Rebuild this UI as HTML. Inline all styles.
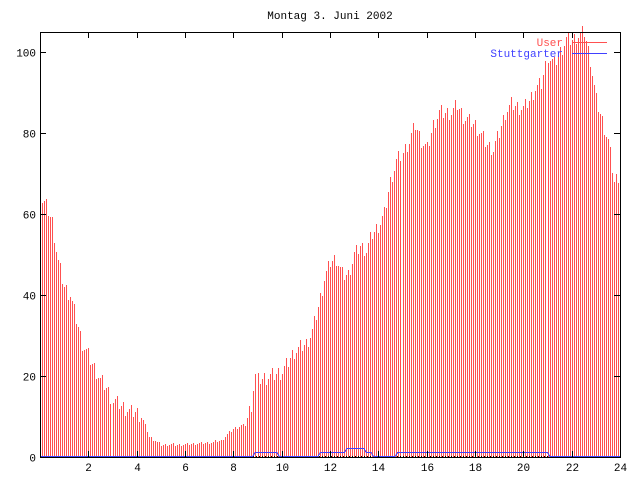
<!DOCTYPE html>
<html><head><meta charset="utf-8"><style>
html,body{margin:0;padding:0;background:#fff;width:640px;height:480px;overflow:hidden}
text{font-family:"Liberation Mono",monospace;font-size:11px}
</style></head><body>
<svg id="s" width="640" height="480" xmlns="http://www.w3.org/2000/svg" shape-rendering="crispEdges">
<g id="bars"></g>
<line x1="40" x2="620" y1="456.5" y2="456.5" stroke="#000" stroke-dasharray="1,2"/>
<polyline id="blue" fill="none" stroke="#4040ff" stroke-width="1"/>
<rect x="40.5" y="32.5" width="580" height="425" fill="none" stroke="#000"/>
<g id="ticks" stroke="#000"></g>
<g id="labels" fill="#000"></g>
<text x="330" y="19" text-anchor="middle">Montag 3. Juni 2002</text>
<text x="563" y="46" text-anchor="end" fill="#ff5050">User</text>
<line x1="572" y1="42.5" x2="607" y2="42.5" stroke="#ff5050"/>
<text x="563" y="57" text-anchor="end" fill="#4040ff">Stuttgarter</text>
<line x1="572" y1="53.5" x2="607" y2="53.5" stroke="#4040ff"/>
</svg>
<script>
var env=[[0,64],[0.25,62],[0.5,58],[0.75,48],[1,42],[1.25,40],[1.5,34],[1.75,28],[2,25],[2.25,22],[2.5,19],[2.75,17],[3,14],[3.25,13],[3.5,12],[3.75,11],[4,11],[4.25,9],[4.5,5],[4.75,4],[5,3],[6,3],[7,3.5],[7.5,4],[8,7],[8.5,8],[8.75,13],[8.9,20],[9,19],[9.5,20],[10,21],[10.5,26],[11,28],[11.25,31],[11.5,37],[11.75,44],[12,48],[12.25,49],[12.5,45],[12.75,45],[13,50],[13.25,52],[13.5,51],[13.75,55],[14,57],[14.25,60],[14.5,68],[14.75,73],[15,75],[15.25,78],[15.5,82],[15.75,78],[16,76],[16.25,82],[16.5,85],[17,85],[17.25,87],[17.5,84],[18,82],[18.5,77],[18.75,76],[19,80],[19.25,85],[19.5,87],[20,86],[20.25,88],[20.5,91],[20.75,92],[21,99],[21.25,97],[21.5,100],[21.75,103],[22,103],[22.25,104],[22.5,105],[22.75,98],[23,88],[23.25,83],[23.5,78],[23.75,68],[24,70]];
function f(h){for(var i=1;i<env.length;i++){if(h<=env[i][0]){var a=env[i-1],b=env[i];return a[1]+(b[1]-a[1])*(h-a[0])/(b[0]-a[0]);}}return 70;}
var X=function(h){return 40+h*580/24},Y=function(v){return 457-v*4.05};
var g="";
for(var i=0;i<288;i++){var h=i/12;var x=Math.round(40+i*580/288);if(x>619)break;var v=f(h);v+=((i*37)%7-3)*0.6*(v>10?1:0.2);if(v<0)v=0;
g+='<line x1="'+(x+0.5)+'" x2="'+(x+0.5)+'" y1="457" y2="'+Math.round(Y(v))+'" stroke="#ff5050"/>';}
document.getElementById("bars").innerHTML=g;
var bl=[[0,0],[8.8,0],[8.9,1],[9.8,1],[9.9,0],[11.5,0],[11.6,1],[12.6,1],[12.7,2],[13.4,2],[13.5,1],[13.7,1],[13.8,0],[14.7,0],[14.8,1],[21,1],[21.1,0],[24,0]];
document.getElementById("blue").setAttribute("points",bl.map(function(p){return X(p[0])+","+(Y(p[1])-0.5)}).join(" "));
var t="",l="";
for(var v=0;v<=100;v+=20){var y=Math.round(Y(v))+0.5;t+='<line x1="40" x2="46" y1="'+y+'" y2="'+y+'"/><line x1="614" x2="620" y1="'+y+'" y2="'+y+'"/>';l+='<text x="36" y="'+(y+4)+'" text-anchor="end">'+v+'</text>';}
for(var h=2;h<=24;h+=2){var x=Math.round(X(h))+0.5;t+='<line x1="'+x+'" x2="'+x+'" y1="457" y2="451"/><line x1="'+x+'" x2="'+x+'" y1="32" y2="38"/>';l+='<text x="'+x+'" y="471" text-anchor="middle">'+h+'</text>';}
document.getElementById("ticks").innerHTML=t;document.getElementById("labels").innerHTML=l;
</script>
</body></html>
